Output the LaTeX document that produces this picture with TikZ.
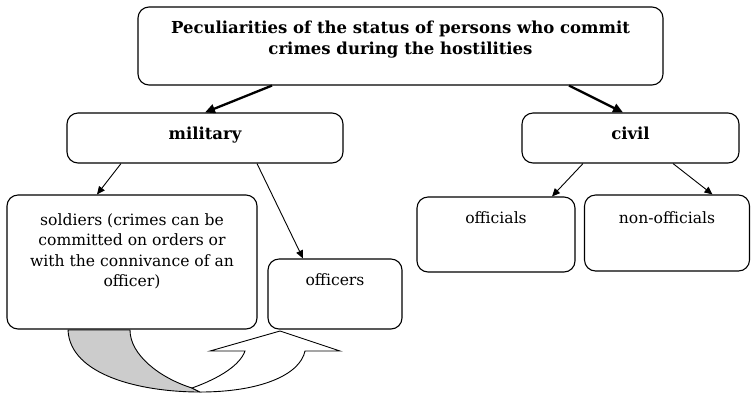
\documentclass[tikz,border=0pt]{standalone}
\usepackage{fontspec}
\setmainfont{DejaVu Serif}
\usetikzlibrary{arrows.meta}
\begin{document}
\begin{tikzpicture}[x=1pt,y=-1pt,
  box/.style={draw, rounded corners=11pt, line width=1.1pt, inner sep=0pt},
  txt/.style={align=center, inner sep=0pt, font=\fontsize{15.6}{20.5}\selectfont},
  btxt/.style={align=center, inner sep=0pt, font=\fontsize{16.5}{21}\selectfont\bfseries},
  thinarrow/.style={-{Triangle[length=8pt,width=7pt]}, line width=0.9pt},
  thickarrow/.style={-{Triangle[length=10pt,width=9pt]}, line width=2.3pt},
  ]
\useasboundingbox (0,0) rectangle (751,392);

% boxes
\node[box, minimum width=525pt, minimum height=78pt] (top) at (400.5,46) {};
\node[box, minimum width=276pt, minimum height=50pt] (military) at (205,138) {};
\node[box, minimum width=217pt, minimum height=50pt] (civil) at (630.5,138) {};
\node[box, minimum width=250pt, minimum height=134pt] (soldiers) at (132,262) {};
\node[box, minimum width=134pt, minimum height=70pt] (officers) at (335,294) {};
\node[box, minimum width=158pt, minimum height=75pt] (officials) at (496,234.5) {};
\node[box, minimum width=165pt, minimum height=76pt] (nonofficials) at (667,233) {};

% texts
\node[btxt, anchor=north] (toptext) at (400.5,21)
  {Peculiarities of the status of persons who commit\\crimes during the hostilities};
\node[btxt, anchor=base] (miltext) at (205,139) {military};
\node[btxt, anchor=base] (civtext) at (630.5,139) {civil};
\node[txt, anchor=north] (soltext) at (132,213)
  {soldiers (crimes can be\\committed on orders or\\with the connivance of an\\officer)};
\node[txt, anchor=base] (offtext) at (335,285) {officers};
\node[txt, anchor=base] (oftext) at (496,223) {officials};
\node[txt, anchor=base] (nonoftext) at (667,223) {non-officials};

% connectors
\draw[thickarrow] ([xshift=-128.5pt]top.south) -- (military.north);
\draw[thickarrow] ([xshift=168.5pt]top.south) -- ([xshift=-7.5pt]civil.north);
\draw[thinarrow] ([xshift=-84pt]military.south) -- ([xshift=-35pt]soldiers.north);
\draw[thinarrow] ([xshift=52pt]military.south) -- ([xshift=-32pt]officers.north);
\draw[thinarrow] ([xshift=-47.5pt]civil.south) -- ([xshift=56pt]officials.north);
\draw[thinarrow] ([xshift=42.5pt]civil.south) -- ([xshift=45.5pt]nonofficials.north);

% curved block arrow from soldiers round to officers
\draw[line width=0.9pt, fill=gray!40]
  (68,330) .. controls (70,375) and (140,392) .. (200,392)
  -- (192,388) .. controls (160,378) and (130,355) .. (130,330) -- cycle;
\draw[line width=0.9pt, fill=white, line join=miter]
  (192,388) .. controls (220,378) and (240,365) .. (245,351)
  -- (210,351) -- (280,331) -- (340,351) -- (305,351)
  .. controls (300,375) and (260,392) .. (200,392) -- cycle;
\end{tikzpicture}
\end{document}
